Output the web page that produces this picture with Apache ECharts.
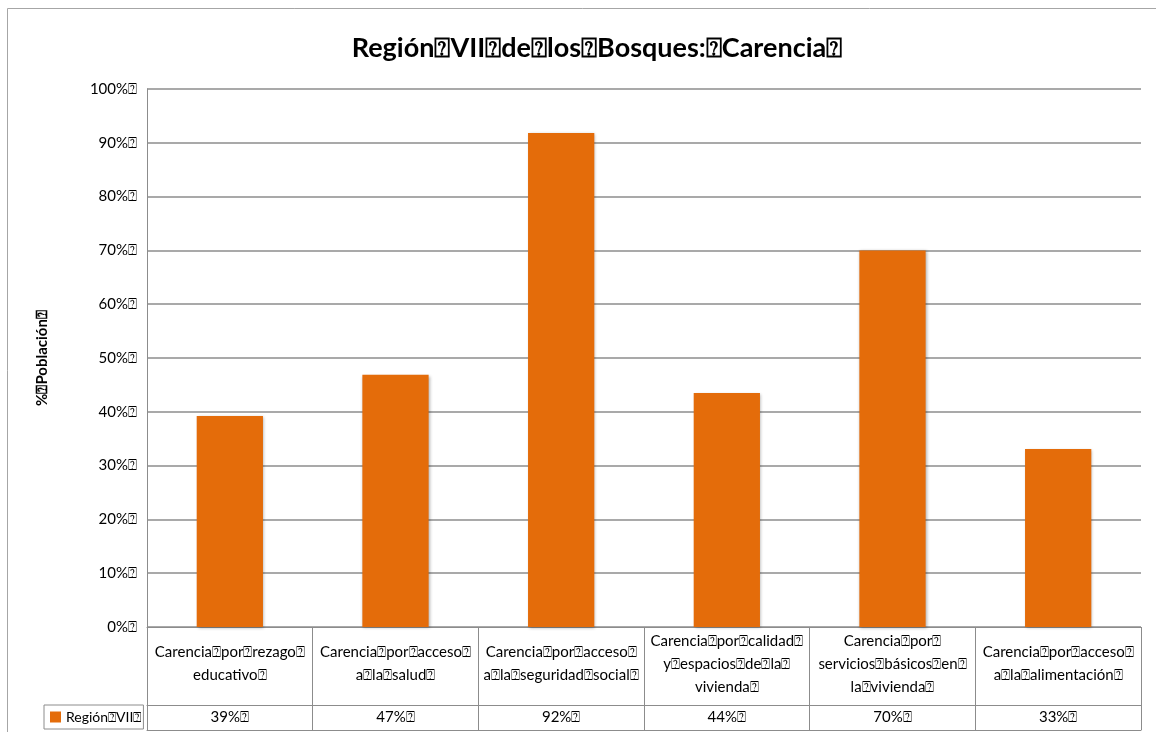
<!DOCTYPE html>
<html><head><meta charset="utf-8">
<script src="https://cdn.jsdelivr.net/npm/echarts@6/dist/echarts.min.js"></script>
<style>html,body{margin:0;padding:0;background:#fff}#c{width:1156px;height:732px}</style>
</head><body><div id="c"></div>
<script>
// missing-glyph box that the source shows in place of spaces
const BOX = '\u2370';
const chartTitle = 'Región VII de los Bosques: Carencia';
const yAxisTitle = '% Población';
const seriesName = 'Región VII';
const categoryLines = [
  ['Carencia por rezago', 'educativo'],
  ['Carencia por acceso', 'a la salud'],
  ['Carencia por acceso', 'a la seguridad social'],
  ['Carencia por calidad', 'y espacios de la', 'vivienda'],
  ['Carencia por', 'servicios básicos en', 'la vivienda'],
  ['Carencia por acceso', 'a la alimentación']
];
const values = [39.2, 46.9, 91.8, 43.5, 70.0, 33.1];
const yMin = 0, yMax = 100, yStep = 10;

const tofu = s => s.split(' ').join(BOX) + BOX;
const categories = categoryLines.map(ls => ls.map(tofu).join('\n'));
const tableLabels = values.map(v => Math.round(v) + '%' + BOX);

const FONT = 'Lato';
const GRAY = '#8c8c8c';
const chart = echarts.init(document.getElementById('c'));
chart.setOption({
  animation: false,
  textStyle: { fontFamily: FONT },
  title: {
    text: tofu(chartTitle),
    left: 592, top: 30, textAlign: 'center',
    textStyle: { fontFamily: FONT, fontWeight: 'bold', fontSize: 27, color: '#000' }
  },
  graphic: [{
    type: 'rect', shape: { x: 7.5, y: 8.5, width: 1300, height: 900 },
    style: { fill: 'none', stroke: '#a6a6a6', lineWidth: 1 }, silent: true
  }],
  legend: {
    left: 44, top: 705, orient: 'horizontal',
    padding: [5, 2, 5, 6], itemWidth: 11, itemHeight: 11, itemGap: 4,
    borderColor: GRAY, borderWidth: 1,
    icon: 'rect',
    textStyle: { fontFamily: FONT, fontSize: 14, color: '#000' },
    formatter: n => tofu(n),
    data: [seriesName]
  },
  grid: { left: 147, right: 15, top: 89, bottom: 105, containLabel: false },
  xAxis: [{
    type: 'category', data: categories, position: 'bottom',
    axisLine: { show: true, lineStyle: { color: GRAY, width: 1 } },
    axisTick: { show: true, length: 103, interval: 0, lineStyle: { color: GRAY, width: 1 } },
    axisLabel: { interval: 0, margin: 37, verticalAlign: 'middle', fontSize: 15, lineHeight: 23, color: '#000', fontFamily: FONT }
  }, {
    type: 'category', data: tableLabels, position: 'bottom', offset: 78,
    axisLine: { show: true, lineStyle: { color: GRAY, width: 1 } },
    axisTick: { show: false },
    axisLabel: { interval: 0, margin: 12.5, verticalAlign: 'middle', fontSize: 15, color: '#000', fontFamily: FONT }
  }, {
    type: 'category', data: tableLabels, position: 'bottom', offset: 103,
    axisLine: { show: true, lineStyle: { color: GRAY, width: 1 } },
    axisTick: { show: false }, axisLabel: { show: false }
  }],
  yAxis: {
    type: 'value', min: yMin, max: yMax, interval: yStep,
    name: tofu(yAxisTitle), nameLocation: 'middle', nameGap: 97, nameRotate: 90,
    nameTextStyle: { fontFamily: FONT, fontWeight: 'bold', fontSize: 15, color: '#000' },
    axisLine: { show: true, lineStyle: { color: GRAY, width: 1 } },
    axisTick: { show: false },
    axisLabel: { formatter: v => v + '%' + BOX, fontSize: 15, color: '#000', margin: 10, fontFamily: FONT },
    splitLine: { show: true, lineStyle: { color: GRAY, width: 1.5 } }
  },
  series: [{
    name: seriesName, type: 'bar', data: values, barWidth: '40%',
    xAxisIndex: 0,
    itemStyle: { color: '#E46C0A', shadowColor: 'rgba(0,0,0,0.3)', shadowBlur: 3, shadowOffsetX: 1, shadowOffsetY: 1 }
  }]
});
</script></body></html>
